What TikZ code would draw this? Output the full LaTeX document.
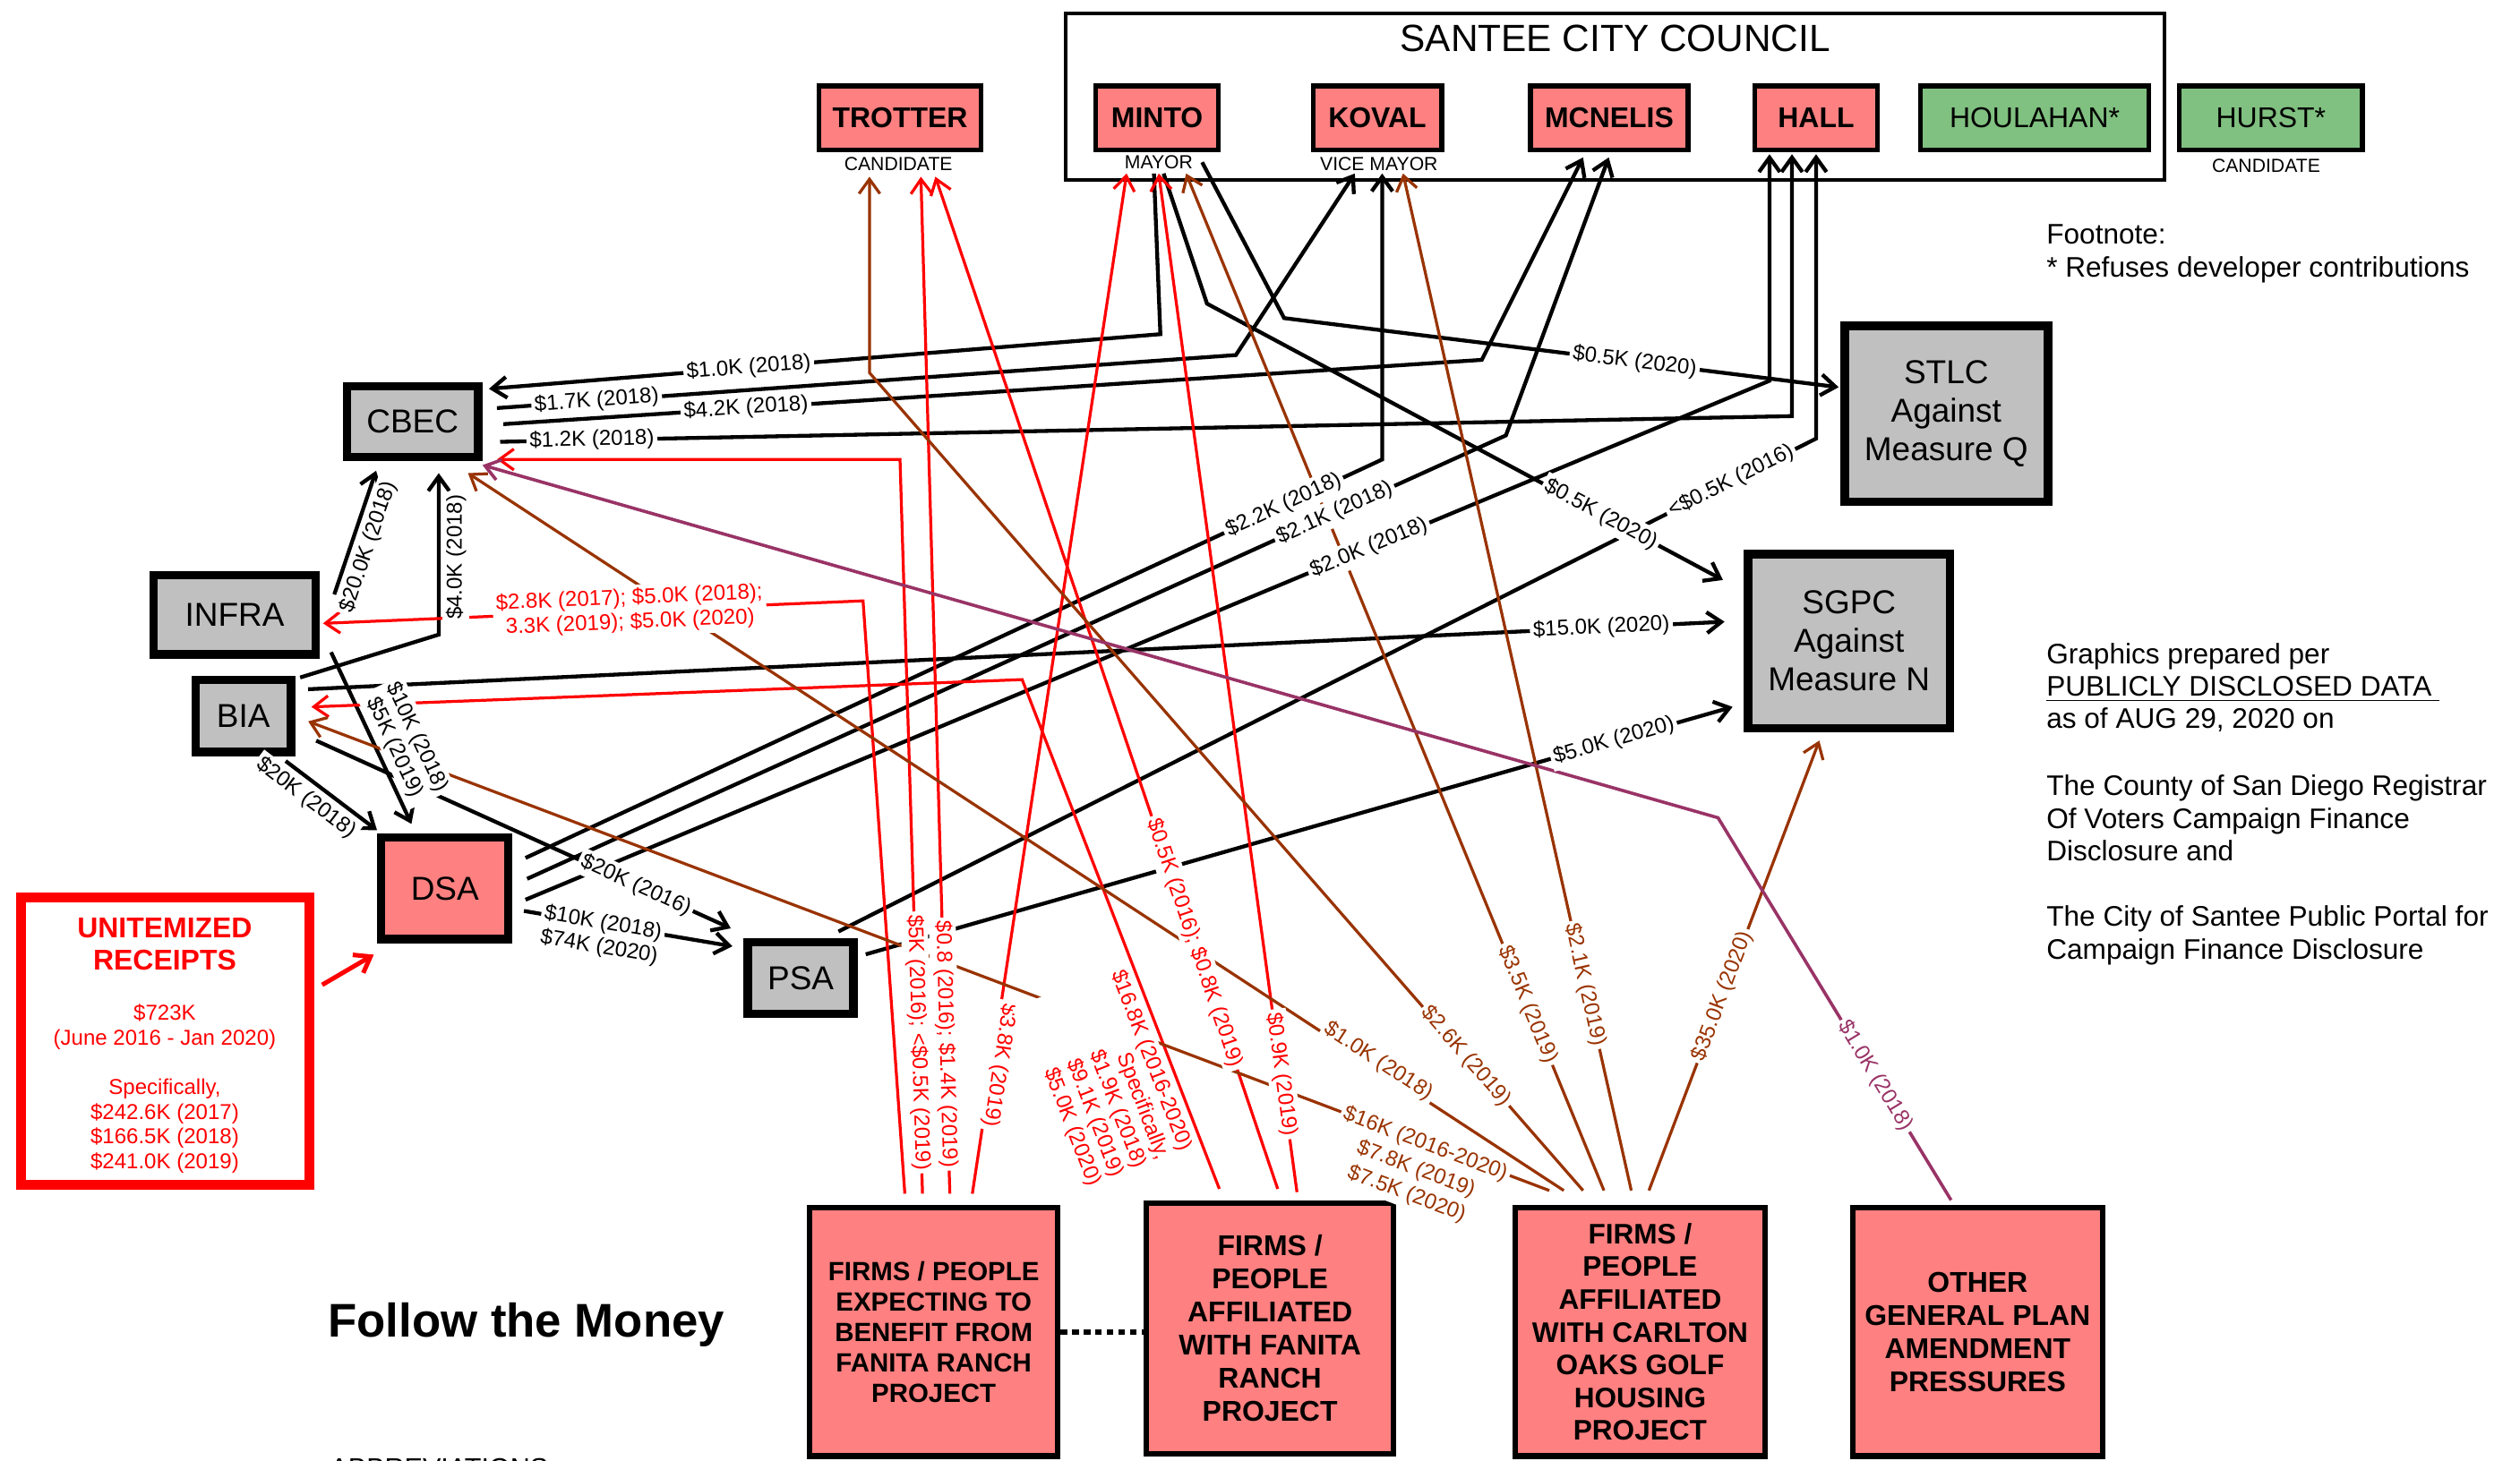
\documentclass[tikz,border=0pt]{standalone}
\usepackage{fontspec}
\setmainfont{Liberation Sans}
\usetikzlibrary{arrows.meta,calc}
\definecolor{pinkf}{HTML}{FF8080}
\definecolor{grayf}{HTML}{C0C0C0}
\definecolor{greenf}{HTML}{80C080}
\definecolor{brn}{HTML}{993300}
\definecolor{prp}{HTML}{993366}
\definecolor{rd}{HTML}{FF0000}
\begin{document}
\begin{tikzpicture}[x=0.5pt,y=-0.5pt,
 every node/.style={inner sep=0pt},
 member/.style={draw, line width=1.5pt, fill=pinkf, minimum height=20pt, font=\bfseries\fontsize{8.9}{10}\selectfont},
 gmember/.style={member, fill=greenf, font=\fontsize{8.9}{10}\selectfont},
 sub/.style={font=\fontsize{5.9}{7}\selectfont},
 gbox/.style={draw, line width=2.6pt, fill=grayf, font=\fontsize{10.3}{12}\selectfont, align=center},
 bigbox/.style={draw, line width=1.7pt, fill=pinkf, align=center, font=\bfseries\fontsize{8.9}{10.3}\selectfont},
 conn/.style={-{Straight Barb[length=4.5pt,width=6.5pt]}, line join=miter},
 kline/.style={conn, draw=black, line width=1.2pt},
 rline/.style={conn, draw=rd, line width=0.9pt},
 bline/.style={conn, draw=brn, line width=0.9pt},
 pline/.style={conn, draw=prp, line width=1pt},
 lbl/.style={fill=white, inner sep=1pt, align=center, font=\fontsize{6.7}{7.6}\selectfont},
 klbl/.style={lbl, text=black},
 rlbl/.style={lbl, text=rd},
 blbl/.style={lbl, text=brn},
 plbl/.style={lbl, text=prp},
 rtext/.style={anchor=base west, font=\fontsize{8.8}{10}\selectfont},
 utext/.style={anchor=base, text=rd, font=\fontsize{6.7}{8}\selectfont},
]
\fill[white] (0,0) rectangle (1568,909);
\useasboundingbox (0,0) rectangle (1568,909);

% ---------- council ----------
\node[draw, line width=1.1pt, minimum width=341.9pt, minimum height=51.9pt] (council) at (1005,60) {};
\node[font=\fontsize{11.8}{14}\selectfont] (title) at (1005,24) {SANTEE CITY COUNCIL};
\node[member, minimum width=50.5pt] (TROTTER) at (560,73.5) {TROTTER};
\node[member, minimum width=38.25pt] (MINTO) at (720,73.5) {MINTO};
\node[member, minimum width=40pt] (KOVAL) at (857,73.5) {KOVAL};
\node[member, minimum width=49pt] (MCNELIS) at (1001.3,73.5) {MCNELIS};
\node[member, minimum width=38.25pt] (HALL) at (1130,73.5) {HALL};
\node[gmember, minimum width=71pt] (HOULAHAN) at (1266,73.5) {HOULAHAN*};
\node[gmember, minimum width=57pt] (HURST) at (1413,73.5) {HURST*};
\node[sub] (trottersub) at (559,102) {CANDIDATE};
\node[sub] (mintosub) at (721,101) {MAYOR};
\node[sub] (kovalsub) at (858,102) {VICE MAYOR};
\node[sub] (hurstsub) at (1410,103) {CANDIDATE};

% ---------- committees ----------
\node[gbox, minimum width=40.9pt, minimum height=21.9pt] (CBEC) at (256.7,262.5) {CBEC};
\node[gbox, minimum width=50.4pt, minimum height=24.65pt] (INFRA) at (146,382.7) {INFRA};
\node[gbox, minimum width=29.75pt, minimum height=22.4pt] (BIA) at (151.4,445.7) {BIA};
\node[gbox, fill=pinkf, minimum width=39.6pt, minimum height=31.6pt] (DSA) at (276.8,553) {DSA};
\node[gbox, minimum width=32.9pt, minimum height=22.3pt] (PSA) at (498.2,608.7) {PSA};
\node[gbox, line width=2.7pt, minimum width=63.25pt, minimum height=54.75pt] (STLC) at (1211,257.5) {STLC\\Against\\Measure Q};
\node[gbox, line width=2.7pt, minimum width=62.75pt, minimum height=54.25pt] (SGPC) at (1150.5,399) {SGPC\\Against\\Measure N};

% ---------- unitemized ----------
\node[draw=rd, line width=3pt, fill=white, minimum width=89.75pt, minimum height=89.5pt] (UNIT) at (102.7,648) {};
\node[utext, font=\bfseries\fontsize{8.9}{10}\selectfont] (u1) at (102.5,583.4) {UNITEMIZED};
\node[utext, font=\bfseries\fontsize{8.9}{10}\selectfont] (u2) at (102.5,603.8) {RECEIPTS};
\node[utext] (u3) at (102.5,634.7) {\$723K};
\node[utext] (u4) at (102.5,650.3) {(June 2016 - Jan 2020)};
\node[utext] (u5) at (102.5,681) {Specifically,};
\node[utext] (u6) at (102.5,696.8) {\$242.6K (2017)};
\node[utext] (u7) at (102.5,711.9) {\$166.5K (2018)};
\node[utext] (u8) at (102.5,727.5) {\$241.0K (2019)};

% ---------- bottom groups ----------
\node[bigbox, font=\bfseries\fontsize{8.2}{9.5}\selectfont, minimum width=77.3pt, minimum height=77.3pt] (box1) at (581,829) {FIRMS / PEOPLE\\EXPECTING TO\\BENEFIT FROM\\FANITA RANCH\\PROJECT};
\node[bigbox, minimum width=76.85pt, minimum height=78.1pt] (box2) at (790.2,826.8) {FIRMS /\\PEOPLE\\AFFILIATED\\WITH FANITA\\RANCH\\PROJECT};
\node[bigbox, font=\bfseries\fontsize{8.8}{10.2}\selectfont, minimum width=77.8pt, minimum height=77.3pt] (box3) at (1020.5,829) {FIRMS /\\PEOPLE\\AFFILIATED\\WITH CARLTON\\OAKS GOLF\\HOUSING\\PROJECT};
\node[bigbox, minimum width=77.8pt, minimum height=77.3pt] (box4) at (1230.5,829) {OTHER\\GENERAL PLAN\\AMENDMENT\\PRESSURES};
\draw[line width=1.6pt, dash pattern=on 2pt off 1.6pt] (box1.east) -- (box1.east -| box2.west);

% ---------- texts ----------
\node[anchor=base, font=\bfseries\fontsize{14.7}{17}\selectfont] (ftm) at (327.5,832) {Follow the Money};
\node[anchor=north west, font=\fontsize{8.5}{10}\selectfont] (abbr) at (205,907.3) {ABBREVIATIONS};
\node[rtext] (fn1) at (1273,152) {Footnote:};
\node[rtext] (fn2) at (1273,172.5) {* Refuses developer contributions};
\node[rtext] (src1) at (1273,413) {Graphics prepared per};
\node[rtext] (src2) at (1273,433) {\underline{PUBLICLY DISCLOSED DATA\ }};
\node[rtext] (src3) at (1273,453.5) {as of AUG 29, 2020 on};
\node[rtext] (src4) at (1273,495) {The County of San Diego Registrar};
\node[rtext] (src5) at (1273,515.5) {Of Voters Campaign Finance};
\node[rtext] (src6) at (1273,536) {Disclosure and};
\node[rtext] (src7) at (1273,576.5) {The City of Santee Public Portal for};
\node[rtext] (src8) at (1273,597) {Campaign Finance Disclosure};

% ---------- black connectors ----------
\draw[kline] ($(MINTO.south -| 718,0)+(0,13)$) -- (722,208) -- coordinate[pos=0.613] (cK1) ($(CBEC.east |- 0,242)+(4,0)$);
\draw[kline] ($(CBEC.east |- 0,254)+(9,0)$) -- coordinate[pos=0.135] (cK2) (769,221) -- ($(KOVAL.south -| 843,0)+(0,13)$);
\draw[kline] ($(CBEC.east |- 0,264)+(13,0)$) -- coordinate[pos=0.248] (cK3) (922,224) -- ($(MCNELIS.south -| 985,0)+(0,3)$);
\draw[kline] ($(CBEC.east |- 0,275)+(11,0)$) -- coordinate[pos=0.071] (cK4) (1115,259) -- ($(HALL.south -| 1115,0)+(0,1)$);
\draw[kline] ($(DSA.east |- 0,534)+(8,0)$) -- coordinate[pos=0.885] (cK5) (860,286) -- ($(KOVAL.south -| 860,0)+(0,13)$);
\draw[kline] ($(DSA.east |- 0,547)+(9,0)$) -- coordinate[pos=0.825] (cK6) (937,271) -- ($(MCNELIS.south -| 1001,0)+(0,3)$);
\draw[kline] ($(DSA.east |- 0,560)+(8,0)$) -- coordinate[pos=0.678] (cK7) (1101,237) -- ($(HALL.south -| 1101,0)+(0,1)$);
\draw[kline] ($(PSA.north east)+(-12,-4)$) -- coordinate[pos=0.913] (cK8) (1130,273) -- ($(HALL.south -| 1130,0)+(0,1)$);
\draw[kline] ($(MINTO.south -| 724,0)+(0,13)$) -- (751,189) -- coordinate[pos=0.763] (cK9) ($(SGPC.west |- 0,361)+(-13,0)$);
\draw[kline] ($(MINTO.south -| 748,0)+(0,6)$) -- (799,198) -- coordinate[pos=0.632] (cK10) ($(STLC.west |- 0,241)+(-1,0)$);
\draw[kline] ($(BIA.east |- 0,429)+(8,0)$) -- coordinate[pos=0.913] (cK11) ($(SGPC.west |- 0,387)+(-12,0)$);
\draw[kline] ($(BIA.north east)+(3,1)$) -- (273,395) -- coordinate[pos=0.48] (cK12) ($(CBEC.south -| 273,0)+(0,7.5)$);
\draw[kline] ($(INFRA.east |- 0,370)+(9,0)$) -- coordinate[pos=0.429] (cK13) ($(CBEC.south -| 234,0)+(0,6)$);
\draw[kline] ($(INFRA.south east)+(7,-4)$) -- coordinate[pos=0.598] (cK14) ($(DSA.north -| 256,0)+(0,-6)$);
\draw[kline] ($(BIA.south east)+(-6,3)$) -- coordinate[pos=0.336] (cK15) ($(DSA.north west)+(0,-2)$);
\draw[kline] ($(BIA.east |- 0,461)+(13,0)$) -- coordinate[pos=0.771] (cK16) ($(PSA.north west)+(-8,-6)$);
\draw[kline] ($(DSA.east |- 0,567)+(7,0)$) -- coordinate[pos=0.37] (cK17) ($(PSA.west |- 0,589)+(-7,0)$);
\draw[kline] ($(PSA.east |- 0,594)+(5,0)$) -- coordinate[pos=0.863] (cK18) ($(SGPC.west |- 0,440)+(-7,0)$);

% ---------- red connectors ----------
\draw[rline] ($(box1.north -| 563,0)+(0,-7)$) -- (537,374) -- coordinate[pos=0.432] (cR1) ($(INFRA.east |- 0,388)+(2,0)$);
\draw[rline] ($(box1.north -| 574,0)+(0,-7)$) -- coordinate[pos=0.206] (cR2) (560,286) -- ($(CBEC.east |- 0,286)+(9,0)$);
\draw[rline] ($(box1.north -| 591,0)+(0,-7)$) -- coordinate[pos=0.147] (cR3) ($(TROTTER.south -| 573,0)+(0,15)$);
\draw[rline] ($(box1.north -| 605,0)+(0,-7)$) -- coordinate[pos=0.126] (cR4) ($(MINTO.south -| 701,0)+(0,13)$);
\draw[rline] ($(box2.north -| 758.7,0)+(0,-7)$) -- coordinate[pos=0.264] (cR5) (636,423) -- ($(BIA.east |- 0,440)+(10,0)$);
\draw[rline] ($(box2.north -| 795,0)+(0,-7)$) -- coordinate[pos=0.243] (cR6) ($(TROTTER.south -| 582,0)+(0,15)$);
\draw[rline] ($(box2.north -| 807,0)+(0,-5)$) -- coordinate[pos=0.1156] (cR7) ($(MINTO.south -| 721,0)+(0,13)$);
\draw[rline, line width=1.4pt] ($(UNIT.east |- 0,613)+(5,0)$) -- ($(DSA.south west)+(-2,7)$);

% ---------- brown connectors ----------
\draw[bline] ($(box3.north -| 964,0)+(0,-9)$) -- coordinate[pos=0.1036] (cB1) ($(BIA.east |- 0,449)+(8,0)$);
\draw[bline] ($(box3.north -| 973,0)+(0,-9)$) -- coordinate[pos=0.169] (cB2) ($(CBEC.south east)+(-9,7.5)$);
\draw[bline] ($(box3.north -| 985,0)+(0,-9)$) -- coordinate[pos=0.164] (cB3) (541,232) -- ($(TROTTER.south -| 541,0)+(0,15)$);
\draw[bline] ($(box3.north -| 998,0)+(0,-9)$) -- coordinate[pos=0.183] (cB4) ($(MINTO.south -| 738,0)+(0,13)$);
\draw[bline] ($(box3.north -| 1015,0)+(0,-9)$) -- coordinate[pos=0.202] (cB5) ($(KOVAL.south -| 873,0)+(0,13)$);
\draw[bline] ($(box3.north -| 1026,0)+(0,-9)$) -- coordinate[pos=0.432] (cB6) ($(SGPC.south -| 1132,0)+(0,5)$);

% ---------- purple connector ----------
\draw[pline] ($(box4.north -| 1214,0)+(0,-3)$) -- coordinate[pos=0.325] (cP) (1069,509) -- ($(CBEC.south east)+(0,2.5)$);

% ---------- labels ----------
\node[klbl, rotate=4.65] (lK1) at (cK1) {\$1.0K (2018)};
\node[klbl, rotate=4.1] (lK2) at (cK2) {\$1.7K (2018)};
\node[klbl, rotate=3.76] (lK3) at (cK3) {\$4.2K (2018)};
\node[klbl, rotate=1.14] (lK4) at (cK4) {\$1.2K (2018)};
\node[klbl, rotate=24.95] (lK5) at (cK5) {\$2.2K (2018)};
\node[klbl, rotate=24.38] (lK6) at (cK6) {\$2.1K (2018)};
\node[klbl, rotate=22.65] (lK7) at (cK7) {\$2.0K (2018)};
\node[klbl, rotate=26.7] (lK8) at (cK8) {<\$0.5K (2016)};
\node[klbl, rotate=-28.2] (lK9) at (cK9) {\$0.5K (2020)};
\node[klbl, rotate=-7.1] (lK10) at (cK10) {\$0.5K (2020)};
\node[klbl, rotate=2.73] (lK11) at (cK11) {\$15.0K (2020)};
\node[klbl, rotate=90, anchor=north, outer sep=1.2pt] (lK12) at (cK12) {\$4.0K (2018)};
\node[klbl, rotate=71.3, anchor=north, outer sep=1.2pt] (lK13) at (cK13) {\$20.0K (2018)};
\node[klbl, rotate=-64.9, anchor=south, outer sep=1.2pt] (lK14) at (cK14) {\$10K (2018)\\\$5K (2019)};
\node[klbl, rotate=-37.2, anchor=north, outer sep=1.2pt] (lK15) at (cK15) {\$20K (2018)};
\node[klbl, rotate=-24.4] (lK16) at (cK16) {\$20K (2016)};
\node[klbl, shift={(0,7)}, rotate=-9.6] (lK17) at (cK17) {\$10K (2018)\\\$74K (2020)};
\node[klbl, rotate=15.9] (lK18) at (cK18) {\$5.0K (2020)};

\node[rlbl, rotate=2.39] (lR1) at (cR1) {\$2.8K (2017); \$5.0K (2018);\\3.3K (2019); \$5.0K (2020)};
\node[rlbl, rotate=-88.25] (lR2) at (cR2) {\$5K (2016); <\$0.5K (2019)};
\node[rlbl, rotate=-88.4] (lR3) at (cR3) {\$0.8 (2016); \$1.4K (2019)};
\node[rlbl, shift={(5,0)}, rotate=-98.6] (lR4) at (cR4) {\$3.8K (2019)};
\node[rlbl, rotate=-69, anchor=north, align=right, outer sep=1.2pt] (lR5) at (cR5) {\$16.8K (2016-2020)\\Specifically,\\\$1.9K (2018)\\\$9.1K (2019)\\\$5.0K (2020)};
\node[rlbl, rotate=-71.3] (lR6) at (cR6) {\$0.5K (2016); \$0.8K (2019)};
\node[rlbl, rotate=-82.3] (lR7) at (cR7) {\$0.9K (2019)};

\node[blbl, shift={(-3,17)}, rotate=-20.7, font=\fontsize{6.7}{8.3}\selectfont] (lB1) at (cB1) {\$16K (2016-2020)\\\$7.8K (2019)\\\$7.5K (2020)};
\node[blbl, shift={(0,-5)}, rotate=-33.2] (lB2) at (cB2) {\$1.0K (2018)};
\node[blbl, rotate=-48.9] (lB3) at (cB3) {\$2.6K (2019)};
\node[blbl, rotate=-67.7] (lB4) at (cB4) {\$3.5K (2019)};
\node[blbl, rotate=-77.4] (lB5) at (cB5) {\$2.1K (2019)};
\node[blbl, rotate=69.3] (lB6) at (cB6) {\$35.0K (2020)};
\node[plbl, rotate=-58.7] (lP) at (cP) {\$1.0K (2018)};
\end{tikzpicture}
\end{document}
